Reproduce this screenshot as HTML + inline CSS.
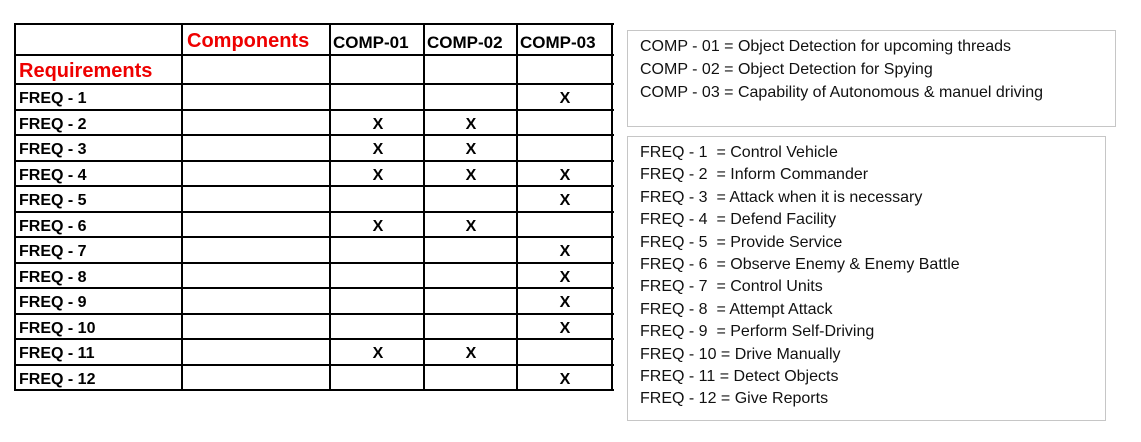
<!DOCTYPE html>
<html><head><meta charset="utf-8"><style>
body{margin:0;width:1141px;height:442px;background:#fff;position:relative;overflow:hidden;font-family:"Liberation Sans",sans-serif}
.h{position:absolute;height:2px;background:#000}
.v{position:absolute;width:2px;background:#000}
.t{position:absolute;font-weight:bold;font-size:16px;line-height:20px;white-space:nowrap}
.x{position:absolute;font-weight:bold;font-size:16px;line-height:20px;width:20px;text-align:center}
.box{position:absolute;border:1.5px solid #c6c6c6;box-sizing:border-box}
.r{position:absolute;left:640px;font-size:16px;line-height:20px;white-space:nowrap;color:#111}
</style></head><body>
<div id="tbl"></div>
<div class="box" style="left:627px;top:30px;width:489px;height:97px"></div>
<div class="box" style="left:627px;top:136px;width:479px;height:285px"></div>
<script>
var s='';
var cols=[15,182,330,424,517,612];
var rows=[24,55,84];for(var i=1;i<=12;i++)rows.push(84+25.5*i);
rows.forEach(function(y){s+='<div class="h" style="left:15px;top:'+(y-1)+'px;width:599px"></div>';});
cols.forEach(function(x){s+='<div class="v" style="left:'+(x-1)+'px;top:23px;height:368px"></div>';});
s+='<div class="t" style="left:187px;top:31px;color:#e00;font-size:20px">Components</div>';
s+='<div class="t" style="left:19px;top:61px;color:#e00;font-size:20px">Requirements</div>';
['COMP-01','COMP-02','COMP-03'].forEach(function(c,k){s+='<div class="t" style="left:'+(cols[k+2]+3)+'px;top:33px;font-size:17px">'+c+'</div>';});
var m={1:[3],2:[1,2],3:[1,2],4:[1,2,3],5:[3],6:[1,2],7:[3],8:[3],9:[3],10:[3],11:[1,2],12:[3]};
var cx={1:378,2:471,3:565};
for(var i=1;i<=12;i++){var y=84+25.5*(i-1);
s+='<div class="t" style="left:19px;top:'+(y+5)+'px">FREQ - '+i+'</div>';
m[i].forEach(function(c){s+='<div class="x" style="left:'+(cx[c]-10)+'px;top:'+(y+5)+'px">X</div>';});}
var comps=['COMP - 01 = Object Detection for upcoming threads','COMP - 02 = Object Detection for Spying','COMP - 03 = Capability of Autonomous &amp; manuel driving'];
comps.forEach(function(t,k){s+='<div class="r" style="top:'+(37+23*k)+'px">'+t+'</div>';});
var fr=['Control Vehicle','Inform Commander','Attack when it is necessary','Defend Facility','Provide Service','Observe Enemy &amp; Enemy Battle','Control Units','Attempt Attack','Perform Self-Driving','Drive Manually','Detect Objects','Give Reports'];
fr.forEach(function(t,k){var n=k+1;s+='<div class="r" style="top:'+(143+22.4*k)+'px">FREQ - '+n+(n<10?'&nbsp; = ':' = ')+t+'</div>';});
document.getElementById('tbl').innerHTML=s;
</script>
</body></html>
